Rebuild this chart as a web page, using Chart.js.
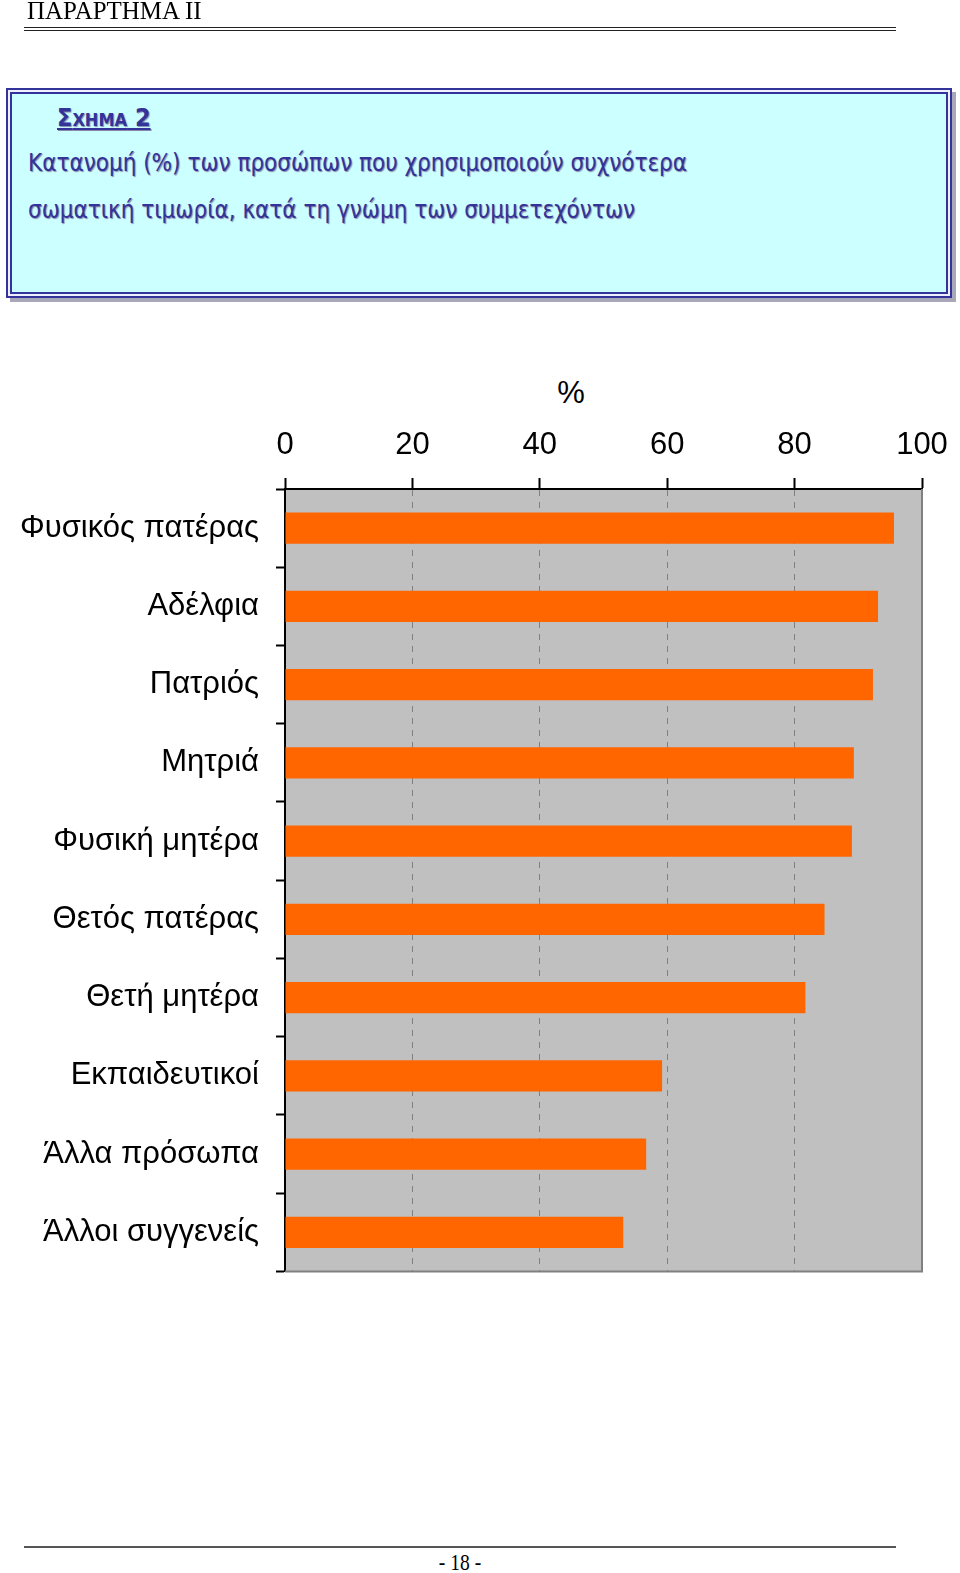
<!DOCTYPE html>
<html lang="el">
<head>
  <meta charset="UTF-8">
  <title>Σχήμα 2</title>
  <script src="https://cdn.jsdelivr.net/npm/chart.js"></script>
  <style>
    body {
      margin: 0;
      width: 960px;
      height: 1573px;
      background: #fff;
      position: relative;
      overflow: hidden;
    }

    .header {
      position: absolute;
      left: 27px;
      top: -4px;
      font-family: "Liberation Serif", serif;
      font-size: 26px;
      transform: scaleX(0.96);
      transform-origin: left top;
      white-space: nowrap;
    }

    .rule-top {
      position: absolute;
      left: 24px;
      top: 27px;
      width: 872px;
      border-bottom: 4px double #222;
    }

    .box {
      position: absolute;
      left: 6px;
      top: 88px;
      width: 938px;
      height: 202px;
      border: 2px solid #333399;
      padding: 2px;
      background: #eef0ff;
      box-shadow: 4px 4px 0 #a8a8b8;
    }

    .box-inner {
      width: 934px;
      height: 198px;
      border: 2px solid #333399;
      background: #ccffff;
      position: relative;
      font-family: "DejaVu Sans Condensed", "DejaVu Sans", sans-serif;
      color: #333399;
      text-shadow: 1px 1px 1px #8888aa;
    }

    .fig {
      position: absolute;
      left: 45px;
      top: 9px;
      font-weight: bold;
      font-size: 25px;
      text-decoration: underline;
    }
    .fig small { font-size: 18px; }

    .line {
      position: absolute;
      left: 16px;
      font-size: 24px;
      white-space: nowrap;
    }

    .pct {
      position: absolute;
      left: 571px;
      top: 375px;
      transform: translateX(-50%);
      font-family: "Liberation Sans", Arial, sans-serif;
      font-size: 31px;
    }

    #chart {
      position: absolute;
      left: 0;
      top: 340px;
    }

    .rule-bottom {
      position: absolute;
      left: 24px;
      top: 1546px;
      width: 872px;
      border-top: 2px solid #555;
    }

    .page-no {
      position: absolute;
      left: 460px;
      top: 1550px;
      transform: translateX(-50%) scaleX(0.85);
      font-family: "Liberation Serif", serif;
      font-size: 23px;
    }
  </style>
</head>
<body>

  <div class="header">ΠΑΡΑΡΤΗΜΑ ΙΙ</div>
  <div class="rule-top"></div>

  <div class="box">
    <div class="box-inner">
      <div class="fig">Σ<small>ΧΗΜΑ</small> 2</div>
      <div class="line" style="top:55px">Κατανομή (%) των προσώπων που χρησιμοποιούν συχνότερα</div>
      <div class="line" style="top:102px">σωματική τιμωρία, κατά τη γνώμη των συμμετεχόντων</div>
    </div>
  </div>

  <div class="pct">%</div>
  <canvas id="chart" width="960" height="967"></canvas>

  <div class="rule-bottom"></div>
  <div class="page-no">- 18 -</div>

  <script>
    // κατηγορίες (από πάνω προς τα κάτω)
    var categories = [
      'Φυσικός πατέρας',
      'Αδέλφια',
      'Πατριός',
      'Μητριά',
      'Φυσική μητέρα',
      'Θετός πατέρας',
      'Θετή μητέρα',
      'Εκπαιδευτικοί',
      'Άλλα πρόσωπα',
      'Άλλοι συγγενείς'
    ];

    // ποσοστά (%)
    var percentages = [95.6, 93.1, 92.3, 89.3, 89.0, 84.7, 81.7, 59.2, 56.7, 53.1];

    // άξονας x
    var xTicks = [0, 20, 40, 60, 80, 100];

    var labelFont = { family: '"Liberation Sans", Arial, sans-serif', size: 31 };

    // γκρι φόντο και πλαίσιο δεξιά/κάτω
    var plotFrame = {
      id: 'plotFrame',
      beforeDraw: function (chart) {
        var a = chart.chartArea;
        var c = chart.ctx;
        c.save();
        c.fillStyle = '#c0c0c0';
        c.fillRect(a.left, a.top, a.right - a.left, a.bottom - a.top);
        c.restore();
      },
      afterDraw: function (chart) {
        var a = chart.chartArea;
        var c = chart.ctx;
        c.save();
        c.strokeStyle = '#808080';
        c.lineWidth = 2;
        c.beginPath();
        c.moveTo(a.right, a.top);
        c.lineTo(a.right, a.bottom);
        c.lineTo(a.left, a.bottom);
        c.stroke();
        c.restore();
      }
    };

    var ctx = document.getElementById('chart').getContext('2d');

    var chart = new Chart(ctx, {
      type: 'bar',
      data: {
        labels: categories,
        datasets: [{
          data: percentages,
          backgroundColor: '#ff6600',
          borderWidth: 0,
          barPercentage: 0.4,
          categoryPercentage: 1
        }]
      },
      options: {
        indexAxis: 'y',
        responsive: false,
        animation: false,
        layout: { padding: { left: 0, right: 38, top: 0, bottom: 22 } },
        plugins: {
          legend: { display: false },
          tooltip: { enabled: false }
        },
        scales: {
          x: {
            position: 'top',
            min: xTicks[0],
            max: xTicks[xTicks.length - 1],
            afterBuildTicks: function (scale) {
              scale.ticks = xTicks.map(function (v) { return { value: v }; });
            },
            afterFit: function (scale) {
              scale.height = 149;
              scale.paddingLeft = 0;
              scale.paddingRight = 0;
            },
            ticks: { font: labelFont, color: '#000', padding: 14, maxRotation: 0 },
            grid: {
              color: '#808080',
              tickColor: '#000',
              tickBorderDash: [],
              tickLength: 11,
              tickWidth: 2
            },
            border: { color: '#000', width: 2, dash: [6, 6] }
          },
          y: {
            afterFit: function (scale) { scale.width = 285; },
            ticks: { font: labelFont, color: '#000', padding: 17 },
            grid: {
              offset: true,
              drawOnChartArea: false,
              color: '#000',
              tickLength: 9,
              tickWidth: 2
            },
            border: { color: '#000', width: 2 }
          }
        }
      },
      plugins: [plotFrame]
    });
  </script>

</body>
</html>
